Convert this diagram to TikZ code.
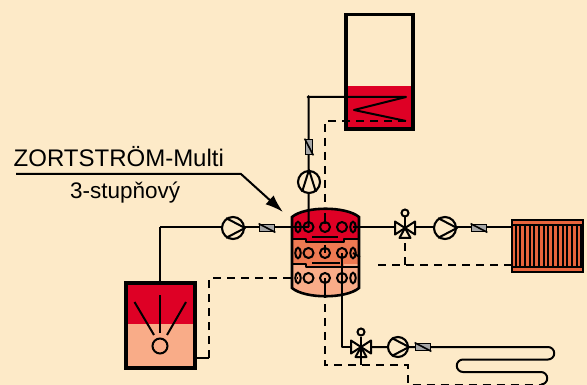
\documentclass[tikz,border=0pt]{standalone}
\usepackage{fontspec}
\setmainfont{Liberation Sans}
\usetikzlibrary{arrows.meta}
\definecolor{bgc}{HTML}{FDEAC8}
\definecolor{redc}{HTML}{DE0025}
\definecolor{orc}{HTML}{EE7A52}
\definecolor{lic}{HTML}{F9AC88}
\definecolor{radc}{HTML}{E8643C}
\tikzset{
  pipe/.style={line width=2pt,line join=round},
  ret/.style={line width=2pt,dash pattern=on 8pt off 6pt},
  tankline/.style={line width=3.8pt},
  pumpc/.style={circle,draw,line width=2.1pt,minimum size=22pt,inner sep=0pt,fill=bgc},
  pumps/.style={pumpc,minimum size=20pt},
  flow/.style={draw,line width=1.7pt,fill=black!35,inner sep=0pt,minimum width=15pt,minimum height=7pt},
  flowv/.style={flow,minimum width=7pt,minimum height=15pt},
  hole/.style={circle,draw,line width=2pt,minimum size=10pt,inner sep=0pt},
  slot/.style={draw,line width=2pt},
  lab/.style={inner sep=0pt,anchor=base west,text=black},
}
\begin{document}
\begin{tikzpicture}[x=1pt,y=-1pt,every node/.append style={font=\fontsize{24}{26}\selectfont}]
\useasboundingbox (0,0) rectangle (587,385);
\clip (0,0) rectangle (587,385);
\fill[bgc] (0,0) rectangle (587,385);

% named points
\coordinate (cL) at (160,227);
\coordinate (cT) at (308.5,97);
\coordinate (cTa) at (406,97);
\coordinate (cTb) at (354,110);
\coordinate (cTc) at (406,121);
\coordinate (rA) at (325,121);
\coordinate (rB) at (325,210);
\coordinate (lTop) at (160,282);
\coordinate (t1R) at (512,227);
\coordinate (t309) at (308.5,227);
\coordinate (rL1) at (196,358);
\coordinate (rL2) at (209,358);
\coordinate (rL3) at (209,278);
\coordinate (rV) at (405,265);
\coordinate (rR0) at (353,253);
\coordinate (rR1) at (365,260);
\coordinate (rR2) at (378,265);
\coordinate (rR3) at (512,265);
\coordinate (p342t) at (342,253);
\coordinate (p342b) at (342,347);
\coordinate (rD0) at (325,290);
\coordinate (rD1) at (325,365);
\coordinate (rD2) at (408,365);
\coordinate (rD3) at (408,384.5);
\coordinate (rD4) at (541,384.5);

% top tank
\fill[redc] (344,86) rectangle (414,130);
\draw[tankline] (345.8,14.5) rectangle (412.8,129);
% left tank
\fill[lic] (124,282) rectangle (196,369);
\fill[redc] (124,282) rectangle (196,324);
\draw[tankline] (125.8,282.8) rectangle (195,368);
\node[circle,draw,line width=2pt,minimum size=15pt,inner sep=0pt] (lc) at (160,346) {};
\draw[pipe] (134.5,302) -- (154,335);
\draw[pipe] (160,295) -- (160,333);
\draw[pipe] (186,302) -- (167,335);

% storage tank body
\fill[lic] (292,217) .. controls (305,206) and (346,206) .. (359,217) -- (359,288) .. controls (346,299) and (305,299) .. (292,288) -- cycle;
\begin{scope}
\clip (292,217) .. controls (305,206) and (346,206) .. (359,217) -- (359,288) .. controls (346,299) and (305,299) .. (292,288) -- cycle;
\fill[orc] (285,239) rectangle (365,264);
\fill[redc] (285,200) rectangle (365,239);
\fill[redc] (306,239) rectangle (344,242.5);
\fill[orc] (306,264) rectangle (344,267);
\end{scope}
\draw[line width=2.6pt] (292,217) .. controls (305,206) and (346,206) .. (359,217) -- (359,288) .. controls (346,299) and (305,299) .. (292,288) -- cycle;
% separators
\draw[pipe] (292,239) -- (306,239) -- (306,242.5) -- (344,242.5) -- (344,239) -- (359,239);
\draw[pipe] (312,237.5) -- (338,237.5);
\draw[pipe] (292,263.5) -- (306,263.5) -- (306,267) -- (359,267);
\draw[pipe] (312,262.5) -- (340,262.5);
% ports
\foreach \r/\y in {a/227,b/253,c/278}{
  \node[slot,circle,minimum size=1pt,inner sep=0pt,minimum width=10pt,xscale=0.55,yscale=1.05] (\r1) at (298,\y) {};
  \node[hole] (\r2) at (308.5,\y) {};
  \node[hole] (\r3) at (325,\y) {};
  \node[hole] (\r4) at (342,\y) {};
  \node[slot,circle,minimum size=1pt,inner sep=0pt,minimum width=10pt,xscale=0.55,yscale=1.05] (\r5) at (353,\y) {};
}

% pipes
\draw[pipe] (cL) -- (t309);
\draw[pipe] (lTop) -- (cL);
\draw[pipe] (a5.center) -- (t1R);
\draw[pipe] (t309) -- (cT) -- (cTa) -- (cTb) -- (cTc);
\fill (cT) circle (1.8pt);
\draw[pipe] (p342t) -- (p342b) -- (361,347);
\draw[pipe] (325,213) -- (325,224);
\draw[pipe] (325,245) -- (325,253);
\draw[pipe] (325,278) -- (325,290);
\draw[pipe] (rL1) -- (rL2);
\draw[pipe] (361,347) -- (548,347) arc[start angle=90,end angle=-90,radius=6.25pt]
  -- (463,359.5) arc[start angle=90,end angle=270,radius=6.25pt]
  -- (541,372) arc[start angle=90,end angle=-90,radius=6.25pt];

% returns
\draw[ret] (cTc) -- (rA) -- (rB);
\draw[ret] (rL2) -- (rL3) -- (c1.center);
\draw[ret] (rR0) -- (rR1);
\draw[ret] (rR2) -- (rR3);
\draw[ret] (rV) -- (405,238);
\draw[ret] (rD0) -- (rD1) -- (rD2) -- (rD3) -- (rD4);

% pumps
\node[pumpc] (pT) at (309,182) {};
\draw[pipe] (pT.235) -- (pT.north) -- (pT.305);
\node[pumpc] (pL) at (233,228) {};
\draw[pipe] (pL.125) -- (pL.east) -- (pL.235);
\node[pumpc] (pR) at (445,228) {};
\draw[pipe] (pR.125) -- (pR.east) -- (pR.235);
\node[pumps] (pB) at (398,347) {};
\draw[pipe] (pB.125) -- (pB.east) -- (pB.235);

% flow meters
\node[flowv] (fT) at (309,147) {};
\draw[line width=1.6pt] (fT.north west) -- (fT.south east);
\node[flow] (fL) at (267,228) {};
\draw[line width=1.6pt] (fL.north west) -- (fL.south east);
\node[flow] (fR) at (479,228) {};
\draw[line width=1.6pt] (fR.north west) -- (fR.south east);
\node[flow] (fB) at (423,347) {};
\draw[line width=1.6pt] (fB.north west) -- (fB.south east);

% three-way valves
\foreach \n/\x/\y in {vR/405/228,vB/361/347}{
  \coordinate (\n) at (\x,\y);
  \draw[pipe,fill=bgc] (\n) -- ++(-10,-6.5) -- ++(0,13) -- cycle;
  \draw[pipe,fill=bgc] (\n) -- ++(10,-6.5) -- ++(0,13) -- cycle;
  \draw[pipe,fill=bgc] (\n) -- ++(-5.5,10) -- ++(11,0) -- cycle;
  \node[circle,draw,line width=2pt,minimum size=7pt,inner sep=0pt] (\n c) at (\x,\y-15) {};
  \draw[pipe] (\n) -- (\n c);
}
\draw[pipe] (vB) -- (361,365);

% radiator
\fill[radc] (512,220) rectangle (583,272);
\foreach \i in {0,...,14}{
  \draw[line width=2pt] (515.5+\i*4.7,226) -- (515.5+\i*4.7,266);
}
\draw[line width=2.2pt] (512,220) rectangle (583,272);
\draw[line width=2pt] (512,225.5) -- (583,225.5) (512,266.5) -- (583,266.5);

% labels
\coordinate (ldA) at (16,174);
\coordinate (ldB) at (241,174);
\coordinate (ldC) at (283,212);
\draw[line width=2pt,-{Latex[length=18pt,width=12pt]}] (ldA) -- (ldB) -- (ldC);
\node[lab] (t1) at (13.5,167) {ZORTSTRÖM-Multi};
\node[lab,font=\fontsize{22.5}{26}\selectfont] (t2) at (70,199) {3-stupňový};
\end{tikzpicture}
\end{document}
